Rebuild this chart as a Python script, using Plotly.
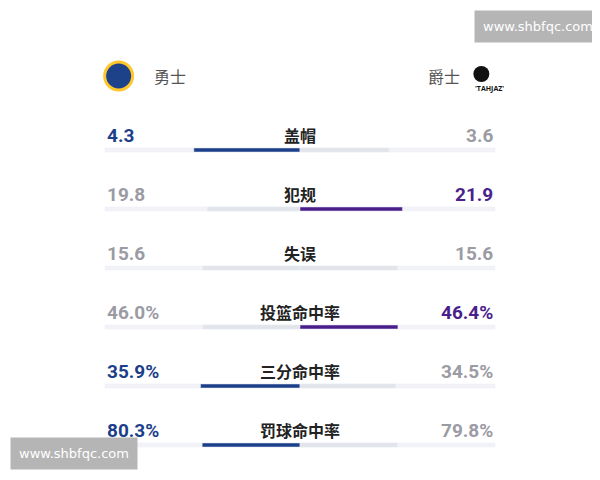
import plotly.graph_objects as go

# 数据
stats = ["盖帽", "犯规", "失误", "投篮命中率", "三分命中率", "罚球命中率"]
warriors = [4.3, 19.8, 15.6, 46.0, 35.9, 80.3]
jazz = [3.6, 21.9, 15.6, 46.4, 34.5, 79.8]
labels_w = ["4.3", "19.8", "15.6", "46.0%", "35.9%", "80.3%"]
labels_j = ["3.6", "21.9", "15.6", "46.4%", "34.5%", "79.8%"]

BLUE = "#1d3f8a"
PURPLE = "#4a1f8c"
GRAY_TXT = "#9b9ba4"
GRAY_BAR = "#e3e3ea"
TRACK = "#f3f3f7"

row_y = [134 + 59 * i for i in range(len(stats))]

fig = go.Figure()

# 背景轨道
fig.add_trace(go.Bar(x=[2] * len(stats), base=[-1] * len(stats), y=row_y, orientation="h",
                     width=4, marker_color=TRACK, hoverinfo="skip", showlegend=False))

w_share, j_share, w_col, j_col = [], [], [], []
for w, j in zip(warriors, jazz):
    w_share.append(w / (w + j))
    j_share.append(j / (w + j))
    w_col.append(BLUE if w > j else GRAY_BAR)
    j_col.append(PURPLE if j > w else GRAY_BAR)

fig.add_trace(go.Bar(x=w_share, base=[-s for s in w_share], y=row_y, orientation="h",
                     width=4, marker_color=w_col, showlegend=False, name="勇士"))
fig.add_trace(go.Bar(x=j_share, base=[0] * len(stats), y=row_y, orientation="h",
                     width=4, marker_color=j_col, showlegend=False, name="爵士"))

for i, s in enumerate(stats):
    y = row_y[i] - 15
    wc = BLUE if warriors[i] > jazz[i] else GRAY_TXT
    jc = PURPLE if jazz[i] > warriors[i] else GRAY_TXT
    fig.add_annotation(x=-1, y=y, text="<b>%s</b>" % labels_w[i], xanchor="left", showarrow=False,
                       font=dict(size=19, color=wc, family="Roboto"))
    fig.add_annotation(x=1, y=y, text="<b>%s</b>" % labels_j[i], xanchor="right", showarrow=False,
                       font=dict(size=19, color=jc, family="Roboto"))
    fig.add_annotation(x=0, y=y, text="<b>%s</b>" % s, showarrow=False,
                       font=dict(size=16, color="#222222", family="Noto Sans CJK SC"))

# 队名与队徽
fig.add_trace(go.Scatter(x=[-0.93], y=[60], mode="markers", hoverinfo="skip", showlegend=False,
                         marker=dict(size=28, color="#1d428a", line=dict(color="#ffc72c", width=3))))
fig.add_trace(go.Scatter(x=[0.93], y=[58], mode="markers", hoverinfo="skip", showlegend=False,
                         marker=dict(size=16, color="#111111", symbol="circle")))
fig.add_annotation(x=-0.76, y=60, text="勇士", xanchor="left", showarrow=False,
                   font=dict(size=16, color="#555555", family="Noto Sans CJK SC"))
fig.add_annotation(x=0.83, y=60, text="爵士", xanchor="right", showarrow=False,
                   font=dict(size=16, color="#555555", family="Noto Sans CJK SC"))
fig.add_annotation(x=0.97, y=72, text="<b>'TAHJAZ'</b>", showarrow=False,
                   font=dict(size=7, color="#111111"))

# 水印
fig.add_annotation(x=1, y=1, xref="paper", yref="paper", xanchor="right", yanchor="top",
                   xshift=-6, yshift=-2, text="www.shbfqc.com", showarrow=False,
                   bgcolor="#b5b5b5", borderpad=8, font=dict(size=13, color="white", family="DejaVu Sans"))
fig.add_annotation(x=0, y=0, xref="paper", yref="paper", xanchor="left", yanchor="bottom",
                   xshift=2, yshift=18, text="www.shbfqc.com", showarrow=False,
                   bgcolor="#b5b5b5", borderpad=8, font=dict(size=13, color="white", family="DejaVu Sans"))

fig.update_layout(
    width=600, height=480, margin=dict(l=0, r=0, t=0, b=0),
    paper_bgcolor="white", plot_bgcolor="white", barmode="overlay",
    xaxis=dict(range=[-292 / 195, 308 / 195], visible=False, fixedrange=True),
    yaxis=dict(range=[472, -8], visible=False, fixedrange=True),
)

fig.write_html("out.html")
